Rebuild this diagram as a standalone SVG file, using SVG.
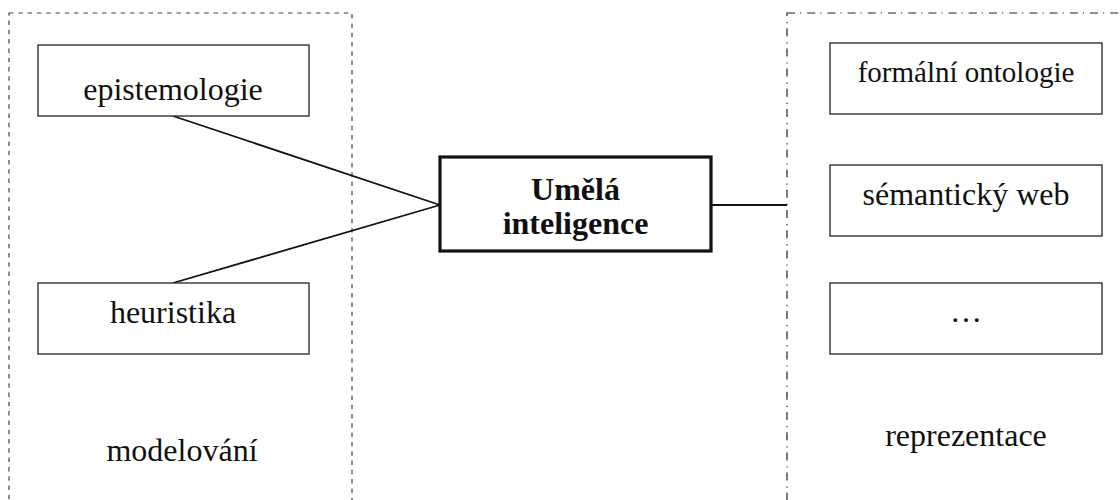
<svg xmlns="http://www.w3.org/2000/svg" width="1120" height="500" viewBox="0 0 1120 500">
  <style>
    .box { fill: #ffffff; stroke: #222222; stroke-width: 1.3; }
    .core { fill: #ffffff; stroke: #111111; stroke-width: 3.2; }
    .lbl { font-family: "Liberation Serif", "Times New Roman", serif; font-size: 32px; fill: #111111; text-anchor: middle; }
    .small { font-size: 29px; }
    .bold { font-weight: bold; }
    .link { stroke: #111111; stroke-width: 1.8; fill: none; }
    .grp-dash { fill: none; stroke: #444444; stroke-width: 1.2; stroke-dasharray: 4.5 4.8; }
    .grp-dashdot { fill: none; stroke: #222222; stroke-width: 1.2; stroke-dasharray: 8 5 1.2 6; }
  </style>

  <rect width="1120" height="500" fill="#ffffff"/>

  <!-- group frames -->
  <g id="modelovani">
    <rect class="grp-dash" x="9" y="13" width="343" height="500"/>
    <text class="lbl" x="182" y="461">modelování</text>
  </g>
  <g id="reprezentace">
    <rect class="grp-dashdot" x="787" y="13" width="360" height="500"/>
    <text class="lbl" x="966" y="446">reprezentace</text>
  </g>

  <!-- connectors -->
  <g id="connectors">
    <line class="link" x1="173" y1="116" x2="440" y2="205"/>
    <line class="link" x1="173" y1="283" x2="440" y2="205"/>
    <line class="link" x1="711" y1="205" x2="787" y2="205"/>
  </g>

  <!-- nodes -->
  <g id="epistemologie">
    <rect class="box" x="38" y="45" width="271" height="71"/>
    <text class="lbl" x="173" y="100">epistemologie</text>
  </g>
  <g id="heuristika">
    <rect class="box" x="38" y="283" width="271" height="71"/>
    <text class="lbl" x="173" y="323">heuristika</text>
  </g>
  <g id="umela-inteligence">
    <rect class="core" x="440" y="157" width="271" height="94"/>
    <text class="lbl bold" x="575.5" y="200">Umělá</text>
    <text class="lbl bold" x="575.5" y="234">inteligence</text>
  </g>
  <g id="formalni-ontologie">
    <rect class="box" x="830" y="43" width="272" height="71"/>
    <text class="lbl small" x="966" y="82">formální ontologie</text>
  </g>
  <g id="semanticky-web">
    <rect class="box" x="830" y="165" width="272" height="71"/>
    <text class="lbl" x="966" y="205">sémantický web</text>
  </g>
  <g id="dalsi">
    <rect class="box" x="830" y="283" width="272" height="71"/>
    <text class="lbl" x="966" y="322">…</text>
  </g>
</svg>
